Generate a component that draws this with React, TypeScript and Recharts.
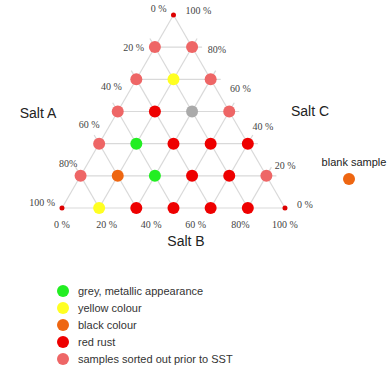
import { Legend, ReferenceLine, Scatter, ScatterChart, XAxis, YAxis } from "recharts";

// sample compositions in parts of six: [salt A, salt B, salt C]
type Mix = [number, number, number];

const greyMetallic: Mix[] = [[3, 2, 1], [3, 1, 2]];
const yellowColour: Mix[] = [[5, 1, 0], [1, 1, 4]];
const blackColour: Mix[] = [[4, 1, 1]];
const redRust: Mix[] = [
  [4, 2, 0], [3, 3, 0], [2, 4, 0], [1, 5, 0],
  [2, 3, 1], [1, 4, 1],
  [2, 2, 2], [1, 3, 2], [0, 4, 2],
  [2, 1, 3],
];
const sortedOut: Mix[] = [
  [5, 0, 1], [0, 5, 1], [4, 0, 2], [3, 0, 3], [0, 3, 3],
  [2, 0, 4], [0, 2, 4], [1, 0, 5], [0, 1, 5],
];
const greySample: Mix[] = [[1, 2, 3]];
const pureSalts: Mix[] = [[6, 0, 0], [0, 6, 0], [0, 0, 6]];

const gridSteps = [0, 1, 2, 3, 4, 5];
const tickPercents = [0, 20, 40, 60, 80, 100];
const tickLabels = ["0 %", "20 %", "40 %", "60 %", "80%", "100 %"];

const SQ = Math.sqrt(3) / 2;
const EXT = 0.045;

function toXY([a, b, c]: Mix) {
  const t = a + b + c;
  return { x: (b + c / 2) / t, y: (c / t) * SQ };
}

const pts = (list: Mix[]) => list.map(toXY);

const series = [
  { name: "grey, metallic appearance", data: greyMetallic, color: "#22ee22" },
  { name: "yellow colour", data: yellowColour, color: "#ffff22" },
  { name: "black colour", data: blackColour, color: "#ee6611" },
  { name: "red rust", data: redRust, color: "#ee0000" },
  { name: "samples sorted out prior to SST", data: sortedOut, color: "#ee6666" },
];

// grid: lines of constant C (horizontal), constant A and constant B
type Seg = { from: { x: number; y: number }; to: { x: number; y: number } };
function extend(s: Seg, len: number): Seg {
  const dx = s.to.x - s.from.x;
  const dy = s.to.y - s.from.y;
  const d = Math.hypot(dx, dy);
  return { from: s.from, to: { x: s.to.x + (dx / d) * len, y: s.to.y + (dy / d) * len } };
}
const gridLines: Seg[] = [];
gridSteps.forEach((k) => {
  const e = k === 0 ? 0 : EXT;
  gridLines.push(extend({ from: toXY([6 - k, 0, k]), to: toXY([0, 6 - k, k]) }, e));
  gridLines.push(extend({ from: toXY([k, 6 - k, 0]), to: toXY([k, 0, 6 - k]) }, e));
  gridLines.push(extend({ from: toXY([6 - k, k, 0]), to: toXY([0, k, 6 - k]) }, e));
});

const leftLabels = tickPercents.map((p, i) => ({ ...toXY([p, 0, 100 - p]), text: tickLabels[i] }));
const rightLabels = tickPercents.map((p, i) => ({ ...toXY([0, 100 - p, p]), text: tickLabels[i] }));
const bottomLabels = tickPercents.map((p, i) => ({ ...toXY([100 - p, p, 0]), text: tickLabels[i] }));

const serif = "'Liberation Serif', 'Times New Roman', serif";
const sans = "'Liberation Sans', Arial, sans-serif";

function dot(r: number, fill: string) {
  return (props: any) => <circle cx={props.cx} cy={props.cy} r={r} fill={fill} />;
}

function pctLabel(dx: number, dy: number, anchor: "start" | "middle" | "end") {
  return (props: any) => (
    <text
      x={props.cx + dx}
      y={props.cy + dy}
      textAnchor={anchor}
      dominantBaseline="central"
      fontFamily={serif}
      fontSize={10}
      fill="#444"
    >
      {props.payload.text}
    </text>
  );
}

function LegendList({ payload }: any) {
  const order = series.map((s) => s.name);
  const items = (payload ?? [])
    .filter((e: any) => order.includes(e.value))
    .sort((a: any, b: any) => order.indexOf(a.value) - order.indexOf(b.value));
  return (
    <ul style={{ listStyle: "none", margin: 0, padding: 0, fontFamily: sans, fontSize: 11, color: "#333" }}>
      {items.map((e: any) => (
        <li key={e.value} style={{ display: "flex", alignItems: "center", height: 16.8 }}>
          <span
            style={{ display: "inline-block", width: 12, height: 12, borderRadius: 6, background: e.color, marginRight: 9 }}
          />
          {e.value}
        </li>
      ))}
    </ul>
  );
}

const title = (x: number, y: number, size: number): React.CSSProperties => ({
  position: "absolute",
  left: x,
  top: y,
  transform: "translate(-50%, -50%)",
  fontFamily: sans,
  fontSize: size,
  color: "#222",
  whiteSpace: "nowrap",
  lineHeight: 1,
});

export default function App() {
  return (
    <div style={{ position: "absolute", left: 0, top: 0, width: 390, height: 369, background: "#fff" }}>
      <ScatterChart width={390} height={369} margin={{ top: 0, right: 0, bottom: 0, left: 0 }}>
        <XAxis type="number" dataKey="x" domain={[-0.278, 1.471]} allowDataOverflow hide />
        <YAxis type="number" dataKey="y" domain={[-0.722, 0.933]} allowDataOverflow hide />
        {gridLines.map((s, i) => (
          <ReferenceLine key={i} segment={[s.from, s.to]} stroke="#d9d9d9" strokeWidth={1.2} />
        ))}
        {series.map((s) => (
          <Scatter
            key={s.name}
            name={s.name}
            data={pts(s.data)}
            fill={s.color}
            shape={dot(6, s.color)}
            isAnimationActive={false}
          />
        ))}
        <Scatter data={pts(greySample)} fill="#aaaaaa" shape={dot(6, "#aaaaaa")} legendType="none" isAnimationActive={false} />
        <Scatter data={pts(pureSalts)} fill="#dd0000" shape={dot(2.5, "#dd0000")} legendType="none" isAnimationActive={false} />
        <Scatter data={leftLabels} shape={pctLabel(-7, -6, "end")} legendType="none" isAnimationActive={false} />
        <Scatter data={rightLabels} shape={pctLabel(12, -4, "start")} legendType="none" isAnimationActive={false} />
        <Scatter data={bottomLabels} shape={pctLabel(0, 16, "middle")} legendType="none" isAnimationActive={false} />
        <Legend
          layout="vertical"
          align="center"
          verticalAlign="middle"
          content={LegendList}
          wrapperStyle={{ left: 57, top: 283, width: 260 }}
        />
      </ScatterChart>
      <div style={title(38, 113, 14)}>Salt A</div>
      <div style={title(310, 111, 14)}>Salt C</div>
      <div style={title(186, 241, 14)}>Salt B</div>
      <div style={title(354, 162, 11)}>blank sample</div>
      <div
        style={{ position: "absolute", left: 343, top: 173, width: 12, height: 12, borderRadius: 6, background: "#ee6611" }}
      />
    </div>
  );
}
